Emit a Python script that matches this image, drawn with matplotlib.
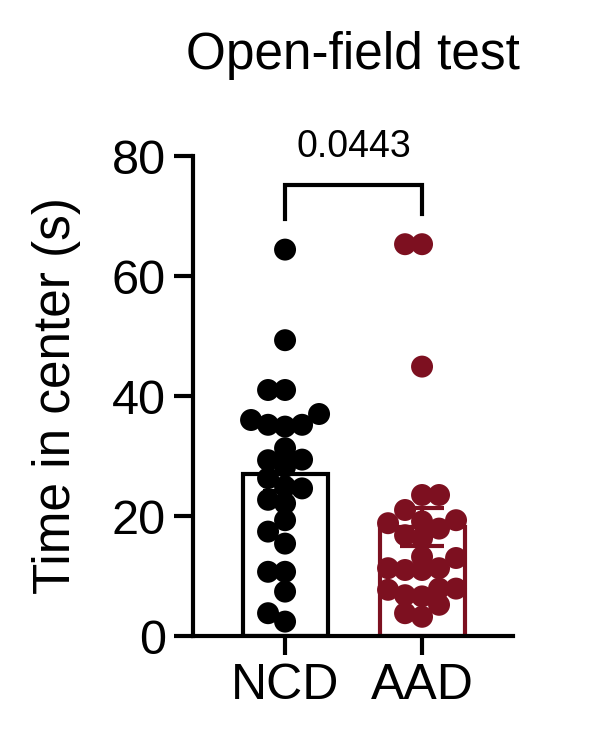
import matplotlib
matplotlib.use("Agg")
import matplotlib.pyplot as plt
import numpy as np

plt.rcParams['font.family'] = ['Liberation Sans', 'DejaVu Sans']

# ---- data ----
groups = ["NCD", "AAD"]
ncd_values = [64.4, 49.3, 41.0, 41.0, 36.0, 35.2, 34.9, 35.2, 37.0, 31.3,
              29.3, 28.2, 29.4, 26.3, 24.6, 24.9, 22.1, 22.7, 19.3, 17.4,
              15.4, 10.7, 10.7, 7.4, 3.8, 2.4]
aad_values = [65.3, 65.3, 44.9, 23.5, 23.5, 21.0, 18.8, 19.3, 19.1, 17.9,
              16.8, 16.3, 13.2, 11.3, 11.0, 11.0, 11.3, 13.0, 6.6, 6.8,
              7.7, 7.9, 7.9, 3.2, 3.8, 5.2]
title = "Open-field test"
ylabel = "Time in center (s)"
yticks = [0, 20, 40, 60, 80]
p_value = "0.0443"

colors = ["#000000", "#7d1020"]

W, H, DPI = 601, 750, 100
fig = plt.figure(figsize=(W / DPI, H / DPI), dpi=DPI)
ax = fig.add_axes([193 / W, 1 - 636 / H, (513 - 193) / W, 480 / H])
ax.set_xlim(-0.672, 1.664)
ax.set_ylim(0, 80)

lw = 3.0
for s in ["top", "right"]:
    ax.spines[s].set_visible(False)
for s in ["left", "bottom"]:
    ax.spines[s].set_linewidth(lw)

ax.set_yticks(yticks)
ax.set_xticks(range(len(groups)))
ax.set_xticklabels(groups)
ax.tick_params(axis="y", length=13.5, width=lw, labelsize=35, pad=6)
ax.tick_params(axis="x", length=13.5, width=lw, labelsize=36, pad=6)
ax.set_ylabel(ylabel, fontsize=37, labelpad=22)
fig.text(353 / W, 1 - 55 / H, title, fontsize=37, ha="center", va="center")

bar_w = 0.62
data = [ncd_values, aad_values]
fig.canvas.draw()
trans = ax.transData

def swarm(x0, vals, spacing_px=17.0, min_dist_px=16.0, max_k=2):
    order = np.argsort(vals)
    placed = []
    xs = np.zeros(len(vals))
    px_per_x = trans.transform((1, 0))[0] - trans.transform((0, 0))[0]
    cands = [0]
    for k in range(1, max_k + 1):
        cands += [-k, k]
    for i in order:
        yp = trans.transform((0, vals[i]))[1]
        best, best_d = None, -1
        for k in cands:
            xp = k * spacing_px
            d = min([np.hypot(xp - a, yp - b) for a, b in placed] + [1e9])
            if d >= min_dist_px:
                best = xp
                break
            if d > best_d + 0.5:
                best, best_d = xp, d
        placed.append((best, yp))
        xs[i] = x0 + best / px_per_x
    return xs

for i, (vals, c) in enumerate(zip(data, colors)):
    vals = np.array(vals)
    m = vals.mean()
    sem = vals.std(ddof=1) / np.sqrt(len(vals))
    ax.bar(i, m, width=bar_w, facecolor="white", edgecolor=c, linewidth=lw, zorder=1)
    xs = swarm(i, vals)
    ax.scatter(xs, vals, s=250, color=c, edgecolors="none", zorder=2, clip_on=False)
    ax.errorbar(i, m, yerr=sem, color=c, capsize=16, capthick=lw, elinewidth=lw, zorder=3)

# significance bracket
ax.plot([0, 0, 1, 1], [69.5, 75.2, 75.2, 70.3], color="black", lw=lw, clip_on=False,
        solid_joinstyle="miter")
ax.text(0.5, 81.5, p_value, fontsize=27, ha="center", va="center")

fig.savefig("out.png", dpi=DPI)
